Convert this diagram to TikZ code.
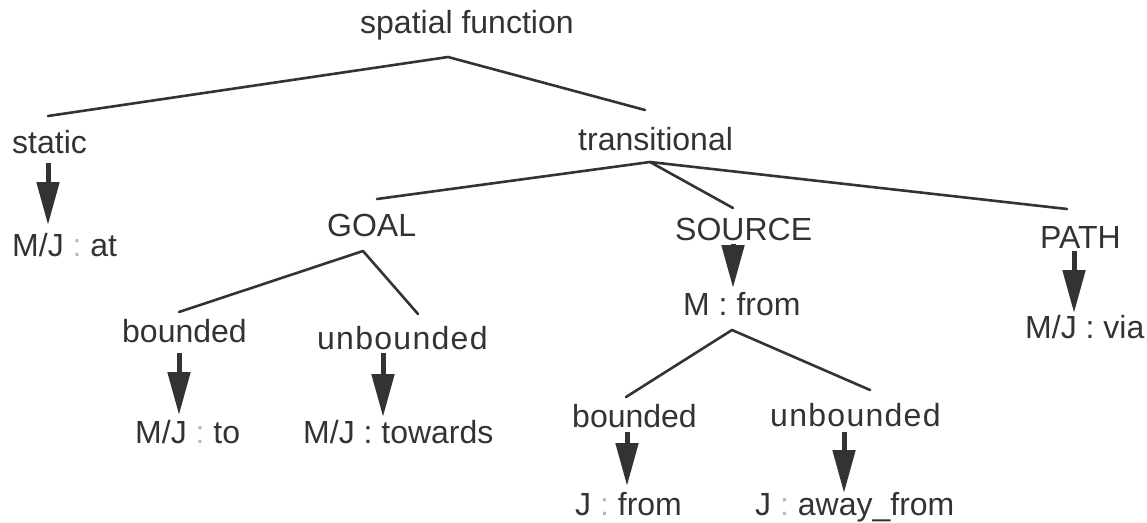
\documentclass[tikz,border=0pt]{standalone}
\usepackage{fontspec}
\setmainfont{Liberation Sans}
\newfontfamily\widefont[LetterSpace=4]{Liberation Sans}
\usetikzlibrary{arrows.meta}
\definecolor{ink}{HTML}{333333}
\definecolor{faint}{HTML}{B8B8B8}
\newcommand{\fc}{\textcolor{faint}{:}}
\tikzset{
  lbl/.style={anchor=base west, inner sep=0pt, text=ink, font=\fontsize{32}{38}\selectfont},
  widelbl/.style={lbl, font=\fontsize{32}{38}\selectfont\widefont},
  branch/.style={draw=ink, line width=2.6pt, line cap=round, line join=round},
  mapsto/.style={draw=ink, line width=5pt, -{Triangle[length=43pt, width=22pt]}}
}
\begin{document}
\begin{tikzpicture}[x=1pt, y=-1pt]
\useasboundingbox (0,0) rectangle (1147,522);

% labels
\node[lbl] (sf)   at (360,33)  {spatial function};
\node[lbl] (st)   at (12,153)  {static};
\node[lbl] (stl)  at (12,256)  {M/J \fc{} at};
\node[lbl] (tr)   at (578,150) {transitional};
\node[lbl] (goal) at (327,236) {GOAL};
\node[lbl] (src)  at (675,240) {SOURCE};
\node[lbl] (path) at (1040,248) {PATH};
\node[lbl] (mf)   at (683,315) {M : from};
\node[lbl] (via)  at (1025,338) {M/J : via};
\node[lbl] (gb)   at (122,342) {bounded};
\node[widelbl] (gu) at (317,349) {unbounded};
\node[lbl] (to)   at (135,443) {M/J \fc{} to};
\node[lbl] (tow)  at (303,443) {M/J : towards};
\node[lbl] (sb)   at (572,427) {bounded};
\node[widelbl] (su) at (770,426) {unbounded};
\node[lbl] (jf)   at (575,515) {J \fc{} from};
\node[lbl] (jaf)  at (755,515) {J \fc{} away\_from};

% branch points and branch ends
\coordinate (sf-b) at (448,57);
\coordinate (st-t) at (48,116);
\coordinate (tr-t) at (645,110);
\coordinate (tr-b) at (650,162);
\coordinate (goal-t) at (377,199);
\coordinate (src-t) at (733,208);
\coordinate (path-t) at (1067,209);
\coordinate (goal-b) at (363,251);
\coordinate (gb-t) at (179,312);
\coordinate (gu-t) at (418,314);
\coordinate (mf-b) at (732,330);
\coordinate (sb-t) at (626,397);
\coordinate (su-t) at (870,390);

% arrow ends
\coordinate (st-a) at (48,163);   \coordinate (stl-a) at (48,225);
\coordinate (src-a) at (733,244); \coordinate (mf-a) at (733,288);
\coordinate (path-a) at (1074,251); \coordinate (via-a) at (1074,313);
\coordinate (gb-a) at (179,353);  \coordinate (to-a) at (179,415);
\coordinate (gu-a) at (383,353);  \coordinate (tow-a) at (383,417);
\coordinate (sb-a) at (627,432);  \coordinate (jf-a) at (627,486);
\coordinate (su-a) at (844,432);  \coordinate (jaf-a) at (844,493);

% tree branches
\draw[branch] (st-t) -- (sf-b) -- (tr-t);
\draw[branch] (goal-t) -- (tr-b) -- (path-t);
\draw[branch] (tr-b) -- (src-t);
\draw[branch] (gb-t) -- (goal-b) -- (gu-t);
\draw[branch] (sb-t) -- (mf-b) -- (su-t);

% realisation arrows
\draw[mapsto] (st-a) -- (stl-a);
\draw[mapsto] (src-a) -- (mf-a);
\draw[mapsto] (path-a) -- (via-a);
\draw[mapsto] (gb-a) -- (to-a);
\draw[mapsto] (gu-a) -- (tow-a);
\draw[mapsto] (sb-a) -- (jf-a);
\draw[mapsto] (su-a) -- (jaf-a);
\end{tikzpicture}
\end{document}
